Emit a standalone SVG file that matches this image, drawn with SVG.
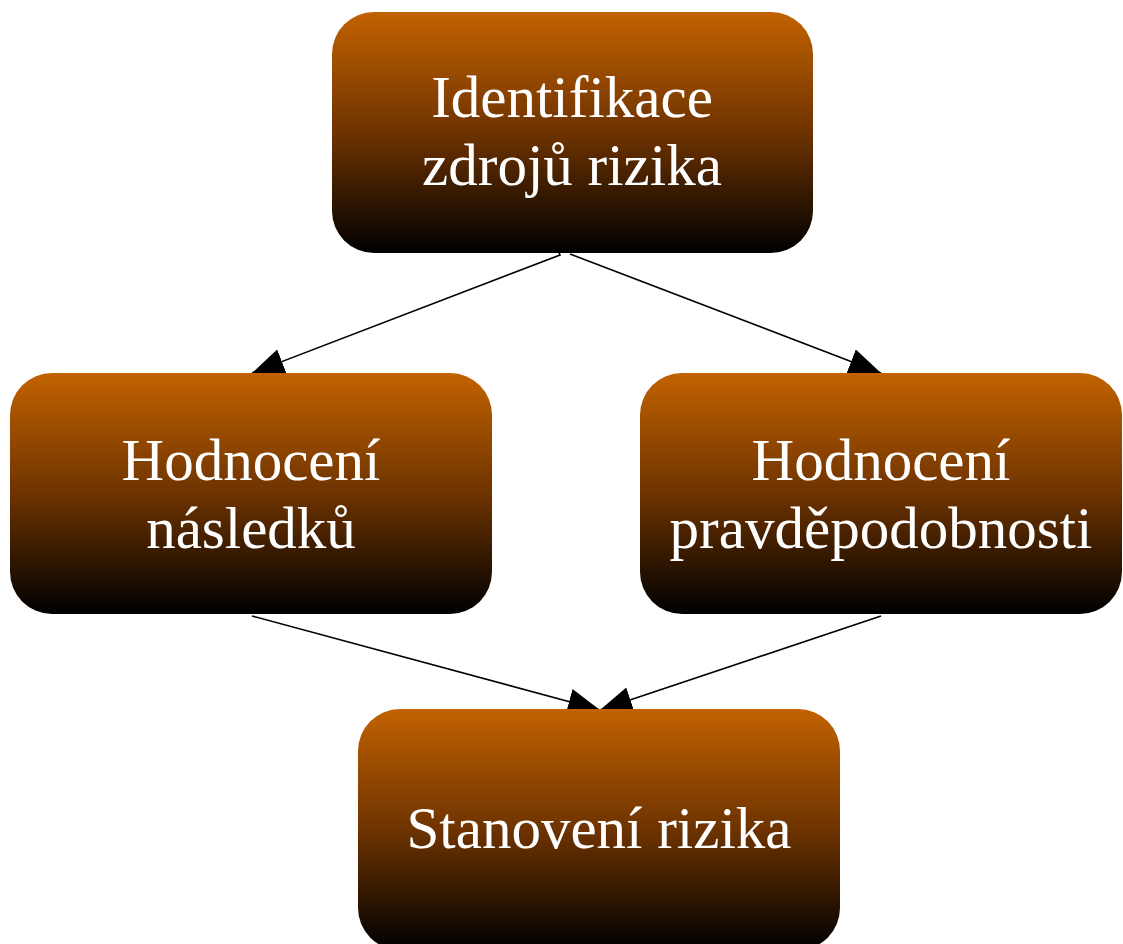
<svg xmlns="http://www.w3.org/2000/svg" width="1123" height="944" viewBox="0 0 1123 944">
<defs>
<linearGradient id="g" x1="0" y1="0" x2="0" y2="1">
<stop offset="0" stop-color="#C26200"/>
<stop offset="0.5" stop-color="#6E3300"/>
<stop offset="1" stop-color="#000000"/>
</linearGradient>
<marker id="ah" markerUnits="userSpaceOnUse" markerWidth="34" markerHeight="26" refX="32" refY="13" orient="auto">
<path d="M0,0 L32,13 L0,26 Z" fill="#000"/>
</marker>
<style>
.box{fill:url(#g);}
.t{font-family:"Liberation Serif","Times New Roman",serif;font-size:59px;fill:#fff;text-anchor:middle;}
.c{stroke:#000;stroke-width:1.6;fill:none;marker-end:url(#ah);}
</style>
</defs>
<rect width="1123" height="944" fill="#fff"/>
<g id="connectors">
<path class="c" d="M558,250 L560,255 L252,373"/>
<path class="c" d="M570,254 L881,373"/>
<path class="c" d="M252,616 L600,710"/>
<path class="c" d="M881,616 L600,710"/>
</g>
<g id="n1">
<rect class="box" x="332" y="12" width="481" height="241" rx="42"/>
<text class="t" x="572" y="117">Identifikace</text>
<text class="t" x="572" y="185">zdrojů rizika</text>
</g>
<g id="n2">
<rect class="box" x="10" y="373" width="482" height="241" rx="42"/>
<text class="t" x="251" y="480">Hodnocení</text>
<text class="t" x="251" y="548">následků</text>
</g>
<g id="n3">
<rect class="box" x="640" y="373" width="482" height="241" rx="42"/>
<text class="t" x="881" y="480">Hodnocení</text>
<text class="t" x="881" y="548">pravděpodobnosti</text>
</g>
<g id="n4">
<rect class="box" x="358" y="709" width="482" height="241" rx="42"/>
<text class="t" x="599" y="848">Stanovení rizika</text>
</g>
</svg>
